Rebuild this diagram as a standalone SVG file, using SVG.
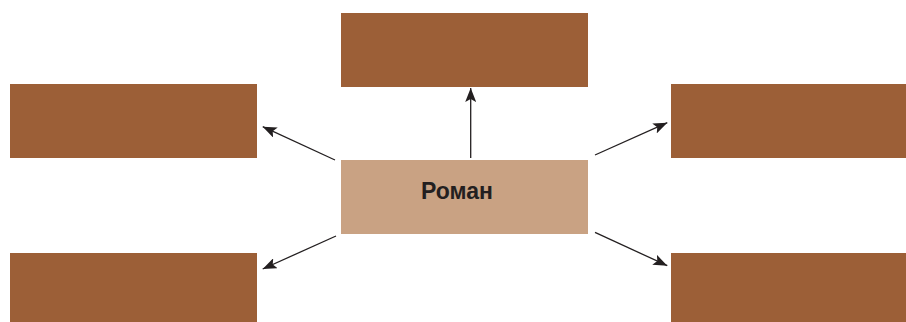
<svg xmlns="http://www.w3.org/2000/svg" width="906" height="322" viewBox="0 0 906 322">
<defs>
<style>
.box{fill:#9C5F37}
.center{fill:#C9A283}
.conn{stroke:#231F20;stroke-width:1.3;fill:none;marker-end:url(#ah)}
.lbl{font-family:"Liberation Sans",Arial,sans-serif;font-weight:bold;font-size:23px;fill:#231F20}
</style>
<marker id="ah" viewBox="0 0 14 11" refX="14" refY="5.5" markerWidth="14" markerHeight="11" markerUnits="userSpaceOnUse" orient="auto">
<path d="M0,0 L14,5.5 L0,11 L3,5.5 Z" fill="#231F20"/>
</marker>
</defs>
<rect width="906" height="322" fill="#FFFFFF"/>
<g id="node-top"><rect class="box" x="341" y="13" width="247" height="74"/></g>
<g id="node-left-top"><rect class="box" x="10" y="84" width="247" height="74"/></g>
<g id="node-right-top"><rect class="box" x="671" y="84" width="247" height="74"/></g>
<g id="node-left-bottom"><rect class="box" x="10" y="253" width="247" height="69"/></g>
<g id="node-right-bottom"><rect class="box" x="671" y="253" width="247" height="69"/></g>
<g id="node-center"><rect class="center" x="341" y="160" width="247" height="74"/><text class="lbl" x="457" y="199" text-anchor="middle">Роман</text></g>
<g id="connectors">
<line class="conn" x1="470.7" y1="158" x2="470.7" y2="88"/>
<line class="conn" x1="335" y1="160" x2="262.7" y2="126.7"/>
<line class="conn" x1="595" y1="155" x2="667.3" y2="122.7"/>
<line class="conn" x1="336" y1="236" x2="262.7" y2="269"/>
<line class="conn" x1="595" y1="232.3" x2="667.3" y2="265.7"/>
</g>
</svg>
